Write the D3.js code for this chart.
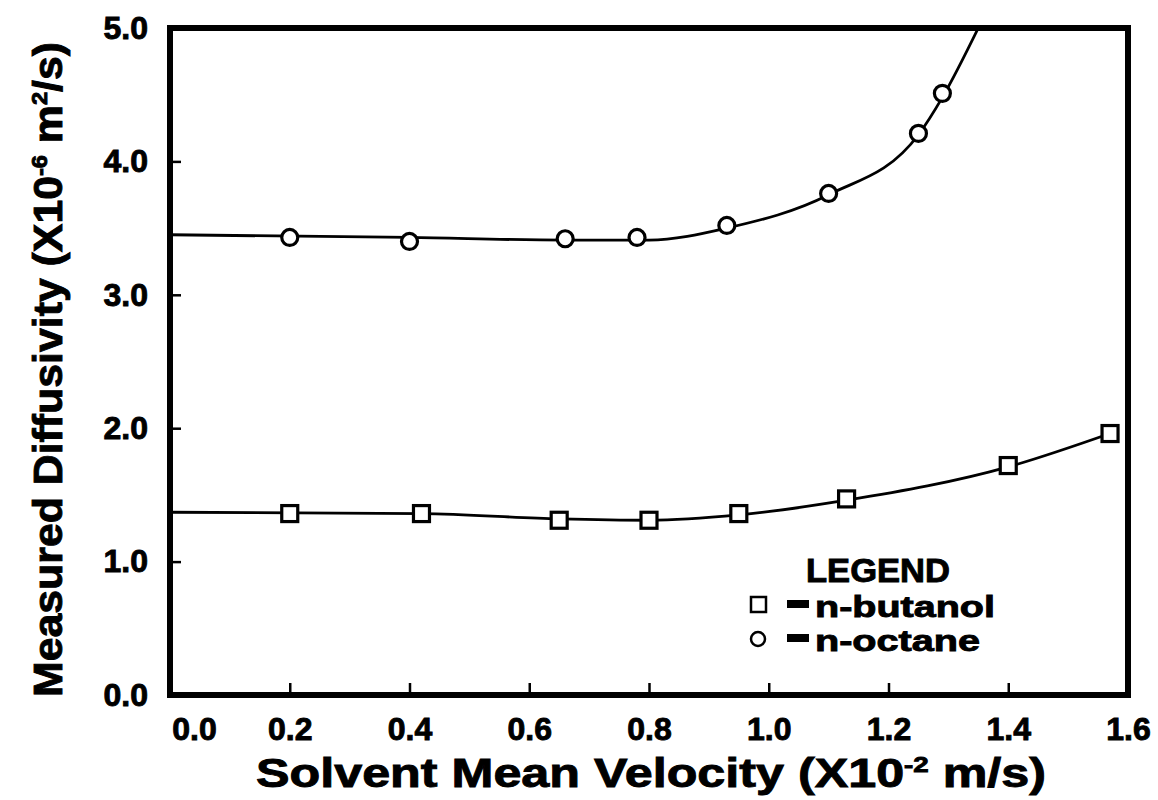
<!DOCTYPE html>
<html>
<head>
<meta charset="utf-8">
<script src="https://cdn.jsdelivr.net/npm/d3@7"></script>
<style>
body { margin:0; background:#fff; }
text { font-family:"Liberation Sans", Arial, sans-serif; font-weight:bold; fill:#000; stroke:#000; stroke-width:0.9px; }
</style>
</head>
<body>
<div class="plot"></div>
<script>
// values
var xTicks = [0, 0.2, 0.4, 0.6, 0.8, 1.0, 1.2, 1.4, 1.6];
var yTicks = [0, 1, 2, 3, 4, 5];

// n-butanol (squares)
var butanolV = [0.20, 0.42, 0.65, 0.80, 0.95, 1.13, 1.40, 1.57];
var butanolD = [1.36, 1.36, 1.31, 1.31, 1.36, 1.47, 1.72, 1.96];
// n-octane (circles)
var octaneV = [0.20, 0.40, 0.66, 0.78, 0.93, 1.10, 1.25, 1.29];
var octaneD = [3.43, 3.40, 3.42, 3.43, 3.52, 3.76, 4.21, 4.51];

// hand drawn fit curves
var butanolFitV = [0, 0.42, 0.65, 0.80, 0.95, 1.13, 1.40, 1.57];
var butanolFitD = [1.37, 1.36, 1.32, 1.31, 1.35, 1.46, 1.71, 1.96];
var octaneFitV = [0, 0.40, 0.66, 0.80, 0.93, 1.10, 1.25, 1.29, 1.35];
var octaneFitD = [3.45, 3.43, 3.41, 3.41, 3.50, 3.75, 4.20, 4.48, 5.0];

var legendItems = [
	{label:'n-butanol', symbol:'square', len:180},
	{label:'n-octane', symbol:'circle', len:165}
];

var W = 1158, H = 800;
var m = {t:28, r:30, b:105, l:170};

var svg = d3.select('.plot')
	.append('svg')
	.attr('width', W)
	.attr('height', H);

var x = d3.scaleLinear().domain([0, 1.6]).range([m.l, W - m.r]);
var y = d3.scaleLinear().domain([0, 5]).range([H - m.b, m.t]);

function zip(a, b){ return a.map(function(v, i){ return {v:v, d:b[i]}; }); }

var fmt = d3.format('.1f');

// x axis
var gx = svg.append('g')
	.attr('transform', 'translate(0,' + y(0) + ')')
	.call(d3.axisBottom(x).tickValues(xTicks).tickFormat(fmt)
		.tickSizeInner(-12).tickSizeOuter(0).tickPadding(22));
gx.select('.domain').remove();
gx.selectAll('line').attr('stroke', '#000').attr('stroke-width', 2.5);
gx.selectAll('text')
	.style('font-size', '32px')
	.attr('font-family', null)
	.attr('dx', function(d){ return d === 0 ? 24 : 0; });

// y axis
var gy = svg.append('g')
	.attr('transform', 'translate(' + x(0) + ',0)')
	.call(d3.axisLeft(y).tickValues(yTicks).tickFormat(fmt)
		.tickSizeInner(-11).tickSizeOuter(0).tickPadding(22));
gy.select('.domain').remove();
gy.selectAll('line').attr('stroke', '#000').attr('stroke-width', 2.5);
gy.selectAll('text')
	.style('font-size', '32px')
	.attr('font-family', null);

svg.selectAll('.tick text').attr('fill', '#000');

// frame
svg.append('rect')
	.attr('x', x(0))
	.attr('y', y(5))
	.attr('width', x(1.6) - x(0))
	.attr('height', y(0) - y(5))
	.attr('fill', 'none')
	.attr('stroke', '#000')
	.attr('stroke-width', 6);

svg.append('clipPath').attr('id', 'clip')
	.append('rect')
	.attr('x', x(0)).attr('y', y(5))
	.attr('width', x(1.6) - x(0)).attr('height', y(0) - y(5));

var line = d3.line()
	.x(function(d){ return x(d.v); })
	.y(function(d){ return y(d.d); })
	.curve(d3.curveMonotoneX);

var plot = svg.append('g').attr('clip-path', 'url(#clip)');

[zip(butanolFitV, butanolFitD), zip(octaneFitV, octaneFitD)].forEach(function(fit){
	plot.append('path')
		.datum(fit)
		.attr('d', line)
		.attr('fill', 'none')
		.attr('stroke', '#000')
		.attr('stroke-width', 2.8);
});

// markers
var sq = 16;
svg.append('g').selectAll('rect')
	.data(zip(butanolV, butanolD))
	.enter()
	.append('rect')
	.attr('x', function(d){ return x(d.v) - sq/2; })
	.attr('y', function(d){ return y(d.d) - sq/2; })
	.attr('width', sq)
	.attr('height', sq)
	.attr('fill', '#fff')
	.attr('stroke', '#000')
	.attr('stroke-width', 3.2);

svg.append('g').selectAll('circle')
	.data(zip(octaneV, octaneD))
	.enter()
	.append('circle')
	.attr('cx', function(d){ return x(d.v); })
	.attr('cy', function(d){ return y(d.d); })
	.attr('r', 8)
	.attr('fill', '#fff')
	.attr('stroke', '#000')
	.attr('stroke-width', 3.2);

// axis titles
var xt = svg.append('text')
	.attr('x', 651)
	.attr('y', 787)
	.attr('text-anchor', 'middle')
	.attr('textLength', 790)
	.attr('lengthAdjust', 'spacingAndGlyphs')
	.style('font-size', '40px');
xt.append('tspan').text('Solvent Mean Velocity (X10');
xt.append('tspan').attr('dy', -15).style('font-size', '22px').text('-2');
xt.append('tspan').attr('dy', 15).text(' m/s)');

var yt = svg.append('text')
	.attr('transform', 'translate(62,' + ((y(0) + y(5)) / 2 + 8) + ') rotate(-90)')
	.attr('text-anchor', 'middle')
	.attr('textLength', 655)
	.attr('lengthAdjust', 'spacingAndGlyphs')
	.style('font-size', '40px');
yt.append('tspan').text('Measured Diffusivity (X10');
yt.append('tspan').attr('dy', -15).style('font-size', '22px').text('-6');
yt.append('tspan').attr('dy', 15).text(' m');
yt.append('tspan').attr('dy', -15).style('font-size', '22px').text('2');
yt.append('tspan').attr('dy', 15).text('/s)');

// legend
var lg = svg.append('g').attr('transform', 'translate(750,582)');
lg.append('text')
	.attr('x', 56)
	.attr('y', 0)
	.style('font-size', '33px')
	.attr('textLength', 144)
	.attr('lengthAdjust', 'spacingAndGlyphs')
	.text('LEGEND');

var rows = lg.selectAll('.row')
	.data(legendItems)
	.enter()
	.append('g')
	.attr('class', 'row')
	.attr('transform', function(d, i){ return 'translate(0,' + (35 + i * 34) + ')'; });

rows.filter(function(d){ return d.symbol === 'square'; })
	.append('rect')
	.attr('x', 1).attr('y', -20).attr('width', 15).attr('height', 15)
	.attr('fill', '#fff').attr('stroke', '#000').attr('stroke-width', 2.5);
rows.filter(function(d){ return d.symbol === 'circle'; })
	.append('circle')
	.attr('cx', 8).attr('cy', -12).attr('r', 7)
	.attr('fill', '#fff').attr('stroke', '#000').attr('stroke-width', 2.5);

rows.append('rect')
	.attr('x', 37).attr('y', -17).attr('width', 22).attr('height', 8)
	.attr('fill', '#000');

rows.append('text')
	.attr('x', 65)
	.attr('y', 0)
	.style('font-size', '30px')
	.attr('textLength', function(d){ return d.len; })
	.attr('lengthAdjust', 'spacingAndGlyphs')
	.text(function(d){ return d.label; });
</script>
</body>
</html>
